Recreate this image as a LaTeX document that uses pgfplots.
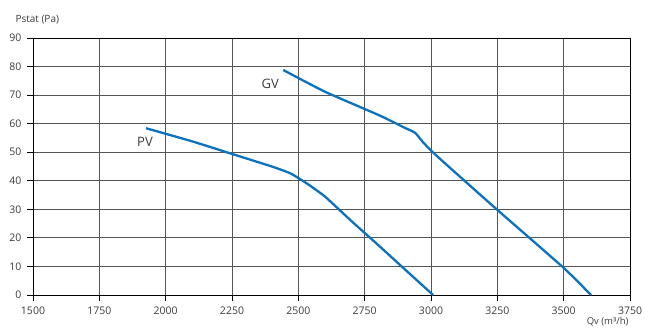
\documentclass[border=0pt]{standalone}
\usepackage{fontspec}
\setmainfont{Open Sans}
\usepackage{pgfplots}
\pgfplotsset{compat=1.18}
\definecolor{curve}{HTML}{0A72BF}
\definecolor{txt}{HTML}{3C3C3C}
\definecolor{gridc}{HTML}{555555}
\begin{document}
\begin{tikzpicture}[x=1pt,y=1pt]
\begin{axis}[
  at={(0pt,0pt)}, anchor=south west,
  scale only axis, width=597pt, height=257pt,
  xmin=1500, xmax=3750, ymin=0, ymax=90,
  xtick={1500,1750,...,3750}, ytick={0,10,...,90},
  grid=major,
  major grid style={gridc, line width=0.9pt},
  axis line style={black, line width=0.9pt},
  tick style={black, line width=0.9pt},
  major tick length=6pt,
  tick align=outside,
  xtick pos=bottom, ytick pos=left,
  /pgf/number format/assume math mode=true,
  /pgf/number format/1000 sep={},
  ticklabel style={font=\fontsize{10.5}{12}\selectfont, text=txt},
  yticklabel style={xshift=-2pt},
  xticklabel style={yshift=-2pt},
  clip=false,
]
\addplot[curve, line width=2.3pt, smooth, tension=0.3] coordinates {
 (1926,58.4) (2100,53.8) (2250,49.4) (2400,45.0) (2470,42.6) (2530,39.2) (2600,34.5) (2700,25.9) (2808,16.9) (2900,9.1) (3008,0)
};
\addplot[curve, line width=2.3pt, smooth, tension=0.3] coordinates {
 (2443,78.8) (2600,71.2) (2808,62.8) (2900,58.6) (2940,56.8) (2970,53.5) (3000,50.6) (3060,45.5) (3250,29.8) (3500,9.5) (3603,0)
};
\node[font=\fontsize{13}{15}\selectfont, text=txt] at (axis cs:1922,53.6) {PV};
\node[font=\fontsize{13}{15}\selectfont, text=txt] at (axis cs:2394,73.9) {GV};
\end{axis}
\node[font=\fontsize{9.5}{11}\selectfont, text=txt, anchor=east] at (599pt,-26.5pt) {Qv (m³/h)};
\node[font=\fontsize{10}{12}\selectfont, text=txt, anchor=west] at (-21pt,275pt) {Pstat (Pa)};
\pgfresetboundingbox
\useasboundingbox (-33pt,-32pt) rectangle (612pt,295pt);
\end{tikzpicture}
\end{document}
